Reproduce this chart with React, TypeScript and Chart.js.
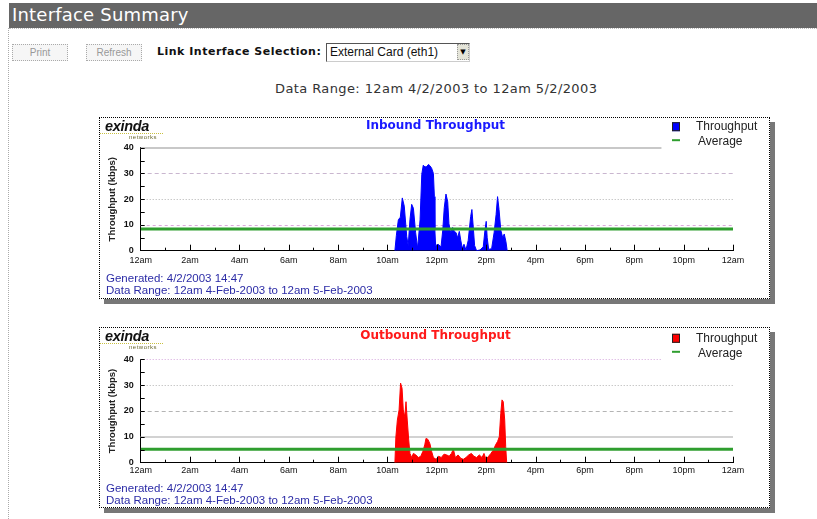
import React, { useEffect, useRef } from 'react';
import { Chart, registerables } from 'chart.js';

Chart.register(...registerables);

// ---------- data ----------
const hourTickLabels = ['12am', '2am', '4am', '6am', '8am', '10am', '12pm', '2pm', '4pm', '6pm', '8pm', '10pm', '12am'];

const inboundHours = [
  10.30, 10.36, 10.44, 10.52, 10.60, 10.68, 10.78, 10.84, 10.91, 10.98,
  11.05, 11.14, 11.22, 11.32, 11.39, 11.45, 11.52, 11.59, 11.66, 11.72,
  11.79, 11.86, 11.90, 11.92, 11.95, 12.05, 12.17, 12.24, 12.30, 12.37,
  12.44, 12.49, 12.56, 12.64, 12.71, 12.78, 12.84, 12.91, 12.97, 13.03,
  13.10, 13.18, 13.27, 13.37, 13.42, 13.48, 13.53, 13.61, 13.75, 13.88,
  13.95, 14.00, 14.04, 14.10, 14.22, 14.32, 14.40, 14.46, 14.52, 14.59,
  14.67, 14.73, 14.80, 14.85,
];
const inboundKbps = [
  0, 6, 12, 13, 20.5, 17.3, 5.5, 2, 12, 18,
  16.5, 7, 1, 12, 29.7, 33.2, 32.5, 32.7, 33.5, 33,
  32, 30, 21, 8, 2, 2.5, 1.5, 8, 16.7, 22,
  19, 10.5, 7, 9, 7.5, 7, 5, 7.5, 4, 1,
  2.5, 0.3, 4, 13.3, 16, 8.5, 2, 0, 0.3, 1.5,
  8, 11.4, 5, 0.5, 0.8, 7, 14, 21, 16, 8,
  5, 6.5, 3.5, 0,
];
const inboundAverage = 8.4;

const outboundHours = [
  10.30, 10.34, 10.40, 10.47, 10.53, 10.59, 10.64, 10.70, 10.75, 10.80,
  10.86, 10.91, 10.98, 11.05, 11.15, 11.25, 11.35, 11.43, 11.51, 11.56,
  11.64, 11.72, 11.79, 11.86, 11.97, 12.07, 12.18, 12.29, 12.40, 12.50,
  12.59, 12.67, 12.75, 12.86, 12.97, 13.07, 13.18, 13.29, 13.40, 13.50,
  13.61, 13.72, 13.83, 13.91, 13.99, 14.08, 14.19, 14.29, 14.38, 14.46,
  14.53, 14.59, 14.64, 14.69, 14.75, 14.79, 14.83,
];
const outboundKbps = [
  0, 10, 16.5, 20.4, 30.8, 28.8, 20.4, 17.8, 23.6, 16.5,
  8.8, 3.6, 2, 3.6, 3, 2, 2.5, 4.3, 6.9, 9.4,
  9, 7.3, 4.3, 2, 1.3, 2.5, 2, 3.3, 3, 2.5,
  3.6, 5.2, 2, 3, 1.7, 1.3, 2, 3, 3.6, 2.5,
  2, 3, 2, 3.6, 1.3, 2.3, 3.6, 4.9, 6.9, 8.2,
  10, 19.1, 24.3, 23.6, 16.5, 6.2, 0,
];
const outboundAverage = 5.2;

const footerLines = ['Generated: 4/2/2003 14:47', 'Data Range: 12am 4-Feb-2003 to 12am 5-Feb-2003'];

// ---------- styles ----------
const VERDANA = '"DejaVu Sans", Verdana, sans-serif';
const ARIAL = '"Liberation Sans", Arial, sans-serif';

type RefLine = { value: number; color: string; width: number; dash: number[]; toHour: number };

const inboundRefLines: RefLine[] = [
  { value: 40, color: '#c8c8c8', width: 2, dash: [], toHour: 21.1 },
  { value: 30, color: '#c9b6cf', width: 1, dash: [4, 3], toHour: 24 },
  { value: 20, color: '#b0b0b0', width: 1, dash: [1, 2], toHour: 24 },
  { value: 10, color: '#dca8dc', width: 1, dash: [3, 3], toHour: 24 },
];
const outboundRefLines: RefLine[] = [
  { value: 40, color: '#d4a4dc', width: 1, dash: [1, 2], toHour: 21.1 },
  { value: 30, color: '#b0b0b0', width: 1, dash: [1, 2], toHour: 24 },
  { value: 20, color: '#b4b4b4', width: 1, dash: [4, 3], toHour: 24 },
  { value: 10, color: '#d2d2d2', width: 2, dash: [], toHour: 24 },
];

const refLinePlugin = {
  id: 'refLines',
  beforeDatasetsDraw(chart: any, _args: any, opts: any) {
    const { ctx, chartArea: a, scales } = chart;
    const lines: RefLine[] = opts.lines || [];
    ctx.save();
    for (const l of lines) {
      const py = Math.round(scales.y.getPixelForValue(l.value)) + (l.width % 2 ? 0.5 : 0);
      ctx.beginPath();
      ctx.strokeStyle = l.color;
      ctx.lineWidth = l.width;
      ctx.setLineDash(l.dash);
      ctx.moveTo(a.left, py);
      ctx.lineTo(scales.x.getPixelForValue(l.toHour), py);
      ctx.stroke();
    }
    ctx.restore();
  },
};

const axisTickPlugin = {
  id: 'axisTicks',
  afterDatasetsDraw(chart: any) {
    const { ctx, chartArea: a, scales } = chart;
    ctx.save();
    ctx.strokeStyle = '#000';
    ctx.lineWidth = 1;
    ctx.beginPath();
    for (let h = 1; h <= 24; h++) {
      const px = Math.round(scales.x.getPixelForValue(h)) + 0.5;
      const len = h % 2 === 0 ? 6 : 3;
      ctx.moveTo(px, a.bottom);
      ctx.lineTo(px, a.bottom - len);
    }
    for (let v = 5; v <= 40; v += 5) {
      const py = Math.round(scales.y.getPixelForValue(v)) + 0.5;
      ctx.moveTo(a.left, py);
      ctx.lineTo(a.left + 4, py);
    }
    ctx.stroke();
    ctx.restore();
  },
};

const boxLegendPlugin = {
  id: 'boxLegend',
  afterDraw(chart: any) {
    const { ctx, chartArea: a } = chart;
    const ds = chart.data.datasets;
    const tp = ds.find((d: any) => d.label === 'Throughput');
    const av = ds.find((d: any) => d.label === 'Average');
    const x0 = a.right - 61;
    const y0 = a.top - 21.5;
    ctx.save();
    ctx.fillStyle = tp.backgroundColor;
    ctx.fillRect(x0, y0 - 4, 8, 9);
    ctx.strokeStyle = '#222';
    ctx.lineWidth = 1;
    ctx.strokeRect(x0 + 0.5, y0 - 3.5, 7, 8);
    ctx.fillStyle = av.borderColor;
    ctx.fillRect(x0, y0 + 13, 8, 2);
    ctx.fillStyle = '#222';
    ctx.font = `12px ${ARIAL}`;
    ctx.textBaseline = 'middle';
    ctx.fillText(tp.label, x0 + 24, y0 + 0.5);
    ctx.fillText(av.label, x0 + 26, y0 + 15.5);
    ctx.restore();
  },
};

type Layout = {
  canvasHeight: number;
  titlePadBottom: number;
  xAxisHeight: number;
  tickPad: number;
  footPadTop: number;
  footPadBottom: number;
};

type ChartProps = {
  title: string;
  titleColor: string;
  fillColor: string;
  hours: number[];
  values: number[];
  average: number;
  refLines: RefLine[];
  lay: Layout;
};

function ThroughputCanvas({ title, titleColor, fillColor, hours, values, average, refLines, lay }: ChartProps) {
  const ref = useRef<HTMLCanvasElement>(null);
  useEffect(() => {
    if (!ref.current) return;
    const chart = new Chart(ref.current, {
      type: 'line',
      data: {
        datasets: [
          {
            label: 'Average',
            data: [{ x: 0, y: average }, { x: 24, y: average }],
            borderColor: '#2f9e2f',
            backgroundColor: '#2f9e2f',
            borderWidth: 3,
            pointRadius: 0,
            fill: false,
          },
          {
            label: 'Throughput',
            data: hours.map((h, i) => ({ x: h, y: values[i] })),
            borderColor: fillColor,
            backgroundColor: fillColor,
            borderWidth: 1,
            pointRadius: 0,
            tension: 0,
            fill: 'origin',
          },
        ],
      },
      options: {
        responsive: false,
        animation: false,
        devicePixelRatio: 1,
        layout: { padding: { left: 6, right: 4, top: 0, bottom: 0 } },
        plugins: {
          legend: { display: false },
          tooltip: { enabled: false },
          title: {
            display: true,
            text: title,
            color: titleColor,
            font: { family: VERDANA, size: 12, weight: 'bold', lineHeight: '13px' },
            padding: { top: 1, bottom: lay.titlePadBottom },
          },
          subtitle: {
            display: true,
            position: 'bottom',
            align: 'start',
            text: footerLines,
            color: '#2b2ba6',
            font: { family: ARIAL, size: 11.5, lineHeight: '12px' },
            padding: { top: lay.footPadTop, bottom: lay.footPadBottom },
          },
          refLines: { lines: refLines },
        } as any,
        scales: {
          x: {
            type: 'linear',
            min: 0,
            max: 24,
            afterFit: (s: any) => { s.height = lay.xAxisHeight; },
            grid: { display: true, drawOnChartArea: false, drawTicks: false },
            border: { display: true, color: '#000', width: 1 },
            ticks: {
              stepSize: 2,
              autoSkip: false,
              maxRotation: 0,
              padding: lay.tickPad,
              color: '#111',
              font: { family: ARIAL, size: 9 },
              callback: (v: any) => hourTickLabels[Math.round(Number(v) / 2)],
            },
          },
          y: {
            min: 0,
            max: 40,
            afterFit: (s: any) => { s.width = 34.7; },
            grid: { display: true, drawOnChartArea: false, drawTicks: false },
            border: { display: true, color: '#000', width: 1 },
            ticks: {
              stepSize: 10,
              padding: 7,
              color: '#111',
              font: { family: ARIAL, size: 9, weight: 'bold' },
            },
            title: {
              display: true,
              text: 'Throughput (kbps)',
              color: '#222',
              padding: 1,
              font: { family: ARIAL, size: 9.5, weight: 'bold' },
            },
          },
          yR: {
            position: 'right',
            display: true,
            afterFit: (s: any) => { s.width = 32; },
            grid: { display: false, drawTicks: false },
            border: { display: false },
            ticks: { display: false },
          },
        } as any,
      },
      plugins: [refLinePlugin, axisTickPlugin, boxLegendPlugin],
    });
    return () => chart.destroy();
  }, []);
  return (
    <canvas
      ref={ref}
      width={669}
      height={lay.canvasHeight}
      style={{ display: 'block', width: 669, height: lay.canvasHeight }}
    />
  );
}

function ChartBox(props: ChartProps & { top: number }) {
  const { top, ...rest } = props;
  return (
    <div
      style={{
        position: 'absolute',
        left: 99,
        top,
        width: 669,
        height: rest.lay.canvasHeight,
        border: '1px dotted #000',
        boxShadow: '5px 5px 0 #777',
        background: '#fff',
      }}
    >
      <ThroughputCanvas {...rest} />
      <div
        style={{
          position: 'absolute',
          left: 5,
          top: 0,
          fontFamily: ARIAL,
          fontStyle: 'italic',
          fontWeight: 'bold',
          fontSize: 14.5,
          letterSpacing: -0.3,
          color: '#111',
        }}
      >
        exinda
      </div>
      <div
        style={{
          position: 'absolute',
          left: 0,
          top: 15,
          width: 63,
          height: 0,
          borderTop: '1px dotted #c8c040',
        }}
      />
      <div
        style={{
          position: 'absolute',
          left: 29,
          top: 16,
          fontFamily: ARIAL,
          fontSize: 6,
          letterSpacing: 0.5,
          color: '#6a6a30',
        }}
      >
        networks
      </div>
    </div>
  );
}

const inboundLayout: Layout = {
  canvasHeight: 180,
  titlePadBottom: 15.7,
  xAxisHeight: 18.3,
  tickPad: 4,
  footPadTop: 3.5,
  footPadBottom: 1.5,
};
const outboundLayout: Layout = {
  canvasHeight: 179,
  titlePadBottom: 17.3,
  xAxisHeight: 15.3,
  tickPad: 2,
  footPadTop: 4.5,
  footPadBottom: 0.5,
};

export default function App() {
  return (
    <div
      style={{
        position: 'fixed',
        left: 0,
        top: 0,
        width: 817,
        height: 519,
        background: '#fff',
        overflow: 'hidden',
        fontFamily: VERDANA,
      }}
    >
      <div style={{ position: 'absolute', left: 9, top: 3, width: 808, height: 25, background: '#666' }}>
        <span
          style={{
            position: 'absolute', left: 3, top: 1, color: '#fff', fontSize: 18,
            letterSpacing: 0.2, fontFamily: VERDANA, whiteSpace: 'nowrap',
          }}
        >
          Interface Summary
        </span>
      </div>
      <div style={{ position: 'absolute', left: 9, top: 28, width: 808, height: 0, borderTop: '1px dotted #bbb' }} />
      <div style={{ position: 'absolute', left: 8, top: 28, width: 0, height: 491, borderLeft: '1px dotted #aaa' }} />

      <div
        style={{
          position: 'absolute', left: 12, top: 44, width: 54, height: 15,
          border: '1px dotted #aaa', background: '#f6f6f6', color: '#999',
          fontFamily: ARIAL, fontSize: 10, lineHeight: '15px', textAlign: 'center',
        }}
      >
        Print
      </div>
      <div
        style={{
          position: 'absolute', left: 86, top: 44, width: 54, height: 15,
          border: '1px dotted #aaa', background: '#f6f6f6', color: '#999',
          fontFamily: ARIAL, fontSize: 10, lineHeight: '15px', textAlign: 'center',
        }}
      >
        Refresh
      </div>
      <div
        style={{
          position: 'absolute', left: 157, top: 45, fontFamily: VERDANA, fontWeight: 'bold',
          fontSize: 11, letterSpacing: 0.5, color: '#111', whiteSpace: 'nowrap',
        }}
      >
        Link Interface Selection:
      </div>
      <div
        style={{
          position: 'absolute', left: 326, top: 43, width: 142, height: 17,
          borderTop: '1px solid #555', borderLeft: '1px solid #555',
          borderRight: '1px solid #ccc', borderBottom: '1px solid #ccc', background: '#fff',
        }}
      >
        <span style={{ position: 'absolute', left: 3, top: 1, fontFamily: ARIAL, fontSize: 12, color: '#111', whiteSpace: 'nowrap' }}>
          External Card (eth1)
        </span>
        <div
          style={{
            position: 'absolute', right: 0, top: 0, width: 12, height: 16,
            background: '#e4e4d8', border: '1px dotted #999', boxSizing: 'border-box',
            fontSize: 7, lineHeight: '14px', textAlign: 'center', color: '#000',
          }}
        >
          ▼
        </div>
      </div>

      <div
        style={{
          position: 'absolute', left: 275, top: 81, fontFamily: VERDANA, fontSize: 13,
          letterSpacing: 0.4, color: '#333', whiteSpace: 'nowrap',
        }}
      >
        Data Range: 12am 4/2/2003 to 12am 5/2/2003
      </div>

      <ChartBox
        top={117}
        title="Inbound Throughput"
        titleColor="#1a1aff"
        fillColor="#0000ff"
        hours={inboundHours}
        values={inboundKbps}
        average={inboundAverage}
        refLines={inboundRefLines}
        lay={inboundLayout}
      />
      <ChartBox
        top={327}
        title="Outbound Throughput"
        titleColor="#ff1a1a"
        fillColor="#ff0000"
        hours={outboundHours}
        values={outboundKbps}
        average={outboundAverage}
        refLines={outboundRefLines}
        lay={outboundLayout}
      />
    </div>
  );
}
